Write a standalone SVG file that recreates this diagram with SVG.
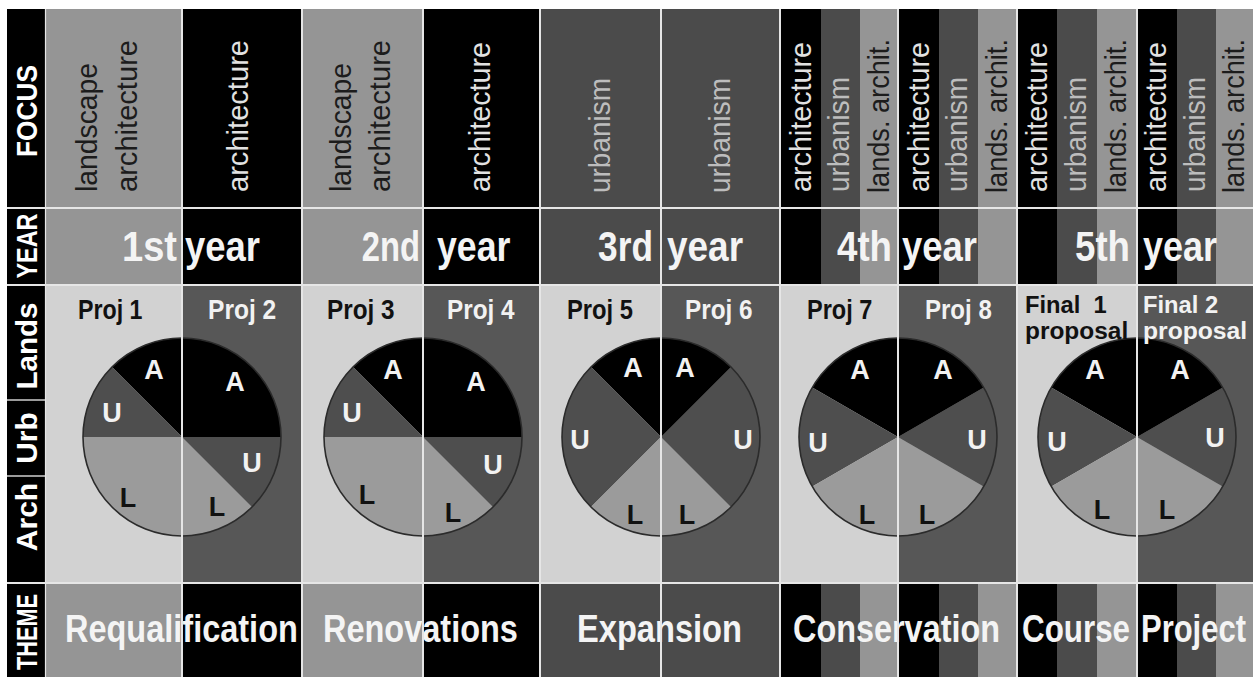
<svg xmlns="http://www.w3.org/2000/svg" width="1253" height="677" viewBox="0 0 1253 677">
<style>
text{font-family:"Liberation Sans",Arial,Helvetica,sans-serif}
.K{fill:#000}.D{fill:#4b4b4b}.M{fill:#959595}.L{fill:#d2d2d2}.DB{fill:#575757}
.hl{font-weight:bold;font-size:30px;fill:#fff;text-anchor:middle}
.fo{font-size:30px}
.fdk{fill:#1c1c1c}.flt{fill:#e2e2e2}.fmd{fill:#bdbdbd}
.yr{font-weight:bold;font-size:42px;fill:#f4f4f4}
.e{text-anchor:end}
.pj{font-weight:bold;font-size:27px}
.fp{font-weight:bold;font-size:23.5px;white-space:pre}
.pb{fill:#111}.pw{fill:#f2f2f2}
.pa{fill:#000}.pu{fill:#4e4e4e}.pl{fill:#9b9b9b}
.pt{font-weight:bold;font-size:27px;text-anchor:middle}
.th{font-weight:bold;font-size:38px;fill:#f4f4f4}
.sep{stroke:#e6e6e6;stroke-width:2}
.ring{fill:none;stroke:#2b2b2b;stroke-width:1.6}
</style>
<rect width="1253" height="677" fill="#fff"/>

<g id="backgrounds">
  <rect x="7" y="9" width="38" height="668" class="K"/>
  <rect x="45" y="9" width="137" height="668" class="M"/>
  <rect x="182" y="9" width="120" height="668" class="K"/>
  <rect x="302" y="9" width="121" height="668" class="M"/>
  <rect x="423" y="9" width="117" height="668" class="K"/>
  <rect x="540" y="9" width="240" height="668" class="D"/>
  <rect x="780" y="9" width="41" height="668" class="K"/>
  <rect x="821" y="9" width="39" height="668" class="D"/>
  <rect x="860" y="9" width="38" height="668" class="M"/>
  <rect x="898" y="9" width="41" height="668" class="K"/>
  <rect x="939" y="9" width="39" height="668" class="D"/>
  <rect x="978" y="9" width="39" height="668" class="M"/>
  <rect x="1017" y="9" width="40" height="668" class="K"/>
  <rect x="1057" y="9" width="40" height="668" class="D"/>
  <rect x="1097" y="9" width="40" height="668" class="M"/>
  <rect x="1137" y="9" width="40" height="668" class="K"/>
  <rect x="1177" y="9" width="39" height="668" class="D"/>
  <rect x="1216" y="9" width="37" height="668" class="M"/>
  <rect x="45" y="285" width="137" height="298" class="L"/>
  <rect x="182" y="285" width="120" height="298" class="DB"/>
  <rect x="302" y="285" width="121" height="298" class="L"/>
  <rect x="423" y="285" width="117" height="298" class="DB"/>
  <rect x="540" y="285" width="121" height="298" class="L"/>
  <rect x="661" y="285" width="119" height="298" class="DB"/>
  <rect x="780" y="285" width="118" height="298" class="L"/>
  <rect x="898" y="285" width="119" height="298" class="DB"/>
  <rect x="1017" y="285" width="120" height="298" class="L"/>
  <rect x="1137" y="285" width="116" height="298" class="DB"/>
</g>

<g id="row-labels">
  <text class="hl" transform="translate(37,111) rotate(-90) scale(0.876,1)">FOCUS</text>
  <text class="hl" transform="translate(37,246) rotate(-90) scale(0.78,1)">YEAR</text>
  <text class="hl" transform="translate(37,346) rotate(-90) scale(0.985,1)">Lands</text>
  <text class="hl" transform="translate(37,438) rotate(-90)">Urb</text>
  <text class="hl" transform="translate(37,517) rotate(-90)">Arch</text>
  <text class="hl" transform="translate(37,632) rotate(-90) scale(0.724,1)">THEME</text>
</g>

<g id="focus">
  <text class="fo fdk" transform="translate(97,192) rotate(-90) scale(0.944,1)">landscape</text>
  <text class="fo fdk" transform="translate(137,192) rotate(-90) scale(0.97,1)">architecture</text>
  <text class="fo flt" transform="translate(248,192) rotate(-90) scale(0.97,1)">architecture</text>
  <text class="fo fdk" transform="translate(351,192) rotate(-90) scale(0.944,1)">landscape</text>
  <text class="fo fdk" transform="translate(390,192) rotate(-90) scale(0.97,1)">architecture</text>
  <text class="fo flt" transform="translate(490,192) rotate(-90) scale(0.957,1)">architecture</text>
  <text class="fo fmd" transform="translate(610,193) rotate(-90) scale(0.932,1)">urbanism</text>
  <text class="fo fmd" transform="translate(730,193) rotate(-90) scale(0.932,1)">urbanism</text>

  <text class="fo flt" transform="translate(811,192) rotate(-90) scale(0.957,1)">architecture</text>
  <text class="fo fmd" transform="translate(849,192) rotate(-90) scale(0.932,1)">urbanism</text>
  <text class="fo fdk" transform="translate(889,193) rotate(-90) scale(0.905,1)">lands. archit.</text>

  <text class="fo flt" transform="translate(929,192) rotate(-90) scale(0.957,1)">architecture</text>
  <text class="fo fmd" transform="translate(967,192) rotate(-90) scale(0.932,1)">urbanism</text>
  <text class="fo fdk" transform="translate(1007,193) rotate(-90) scale(0.905,1)">lands. archit.</text>

  <text class="fo flt" transform="translate(1047,192) rotate(-90) scale(0.957,1)">architecture</text>
  <text class="fo fmd" transform="translate(1086,192) rotate(-90) scale(0.932,1)">urbanism</text>
  <text class="fo fdk" transform="translate(1126,193) rotate(-90) scale(0.905,1)">lands. archit.</text>

  <text class="fo flt" transform="translate(1166,192) rotate(-90) scale(0.957,1)">architecture</text>
  <text class="fo fmd" transform="translate(1205,192) rotate(-90) scale(0.932,1)">urbanism</text>
  <text class="fo fdk" transform="translate(1244,193) rotate(-90) scale(0.905,1)">lands. archit.</text>
</g>

<g id="years">
  <text class="yr e" transform="translate(177,261) scale(0.906,1)">1st</text>
  <text class="yr" transform="translate(185,261) scale(0.868,1)">year</text>
  <text class="yr e" transform="translate(420,261) scale(0.78,1)">2nd</text>
  <text class="yr" transform="translate(437,261) scale(0.85,1)">year</text>
  <text class="yr e" transform="translate(653,261) scale(0.84,1)">3rd</text>
  <text class="yr" transform="translate(667,261) scale(0.88,1)">year</text>
  <text class="yr e" transform="translate(892,261) scale(0.873,1)">4th</text>
  <text class="yr" transform="translate(902,261) scale(0.868,1)">year</text>
  <text class="yr e" transform="translate(1130,261) scale(0.873,1)">5th</text>
  <text class="yr" transform="translate(1143,261) scale(0.857,1)">year</text>
</g>

<g id="pie-1-2" transform="translate(182,437)">
  <path class="pa" d="M0 0V-99A99 99 0 0 0 -70 -70Z"/>
  <path class="pu" d="M0 0L-70 -70A99 99 0 0 0 -99 0Z"/>
  <path class="pl" d="M0 0H-99A99 99 0 0 0 0 99Z"/>
  <path class="pa" d="M0 0H99A99 99 0 0 0 0 -99Z"/>
  <path class="pu" d="M0 0L70 70A99 99 0 0 0 99 0Z"/>
  <path class="pl" d="M0 0V99A99 99 0 0 0 70 70Z"/>
  <circle class="ring" r="99"/>
</g>
<g id="pie-3-4" transform="translate(423,437)">
  <path class="pa" d="M0 0V-99A99 99 0 0 0 -70 -70Z"/>
  <path class="pu" d="M0 0L-70 -70A99 99 0 0 0 -99 0Z"/>
  <path class="pl" d="M0 0H-99A99 99 0 0 0 0 99Z"/>
  <path class="pa" d="M0 0H99A99 99 0 0 0 0 -99Z"/>
  <path class="pu" d="M0 0L70 70A99 99 0 0 0 99 0Z"/>
  <path class="pl" d="M0 0V99A99 99 0 0 0 70 70Z"/>
  <circle class="ring" r="99"/>
</g>
<g id="pie-5-6" transform="translate(661,437)">
  <path class="pa" d="M0 0V-99A99 99 0 0 0 -70 -70Z"/>
  <path class="pu" d="M0 0L-70 -70A99 99 0 0 0 -70 70Z"/>
  <path class="pl" d="M0 0L-70 70A99 99 0 0 0 0 99Z"/>
  <path class="pa" d="M0 0L70 -70A99 99 0 0 0 0 -99Z"/>
  <path class="pu" d="M0 0L70 70A99 99 0 0 0 70 -70Z"/>
  <path class="pl" d="M0 0V99A99 99 0 0 0 70 70Z"/>
  <circle class="ring" r="99"/>
</g>
<g id="pie-7-8" transform="translate(898,437)">
  <path class="pa" d="M0 0V-99A99 99 0 0 0 -85.7 -49.5Z"/>
  <path class="pu" d="M0 0L-85.7 -49.5A99 99 0 0 0 -85.7 49.5Z"/>
  <path class="pl" d="M0 0L-85.7 49.5A99 99 0 0 0 0 99Z"/>
  <path class="pa" d="M0 0L85.7 -49.5A99 99 0 0 0 0 -99Z"/>
  <path class="pu" d="M0 0L85.7 49.5A99 99 0 0 0 85.7 -49.5Z"/>
  <path class="pl" d="M0 0V99A99 99 0 0 0 85.7 49.5Z"/>
  <circle class="ring" r="99"/>
</g>
<g id="pie-9-10" transform="translate(1137,437)">
  <path class="pa" d="M0 0V-99A99 99 0 0 0 -85.7 -49.5Z"/>
  <path class="pu" d="M0 0L-85.7 -49.5A99 99 0 0 0 -85.7 49.5Z"/>
  <path class="pl" d="M0 0L-85.7 49.5A99 99 0 0 0 0 99Z"/>
  <path class="pa" d="M0 0L85.7 -49.5A99 99 0 0 0 0 -99Z"/>
  <path class="pu" d="M0 0L85.7 49.5A99 99 0 0 0 85.7 -49.5Z"/>
  <path class="pl" d="M0 0V99A99 99 0 0 0 85.7 49.5Z"/>
  <circle class="ring" r="99"/>
</g>

<g id="proj-labels">
  <text class="pj pb" transform="translate(78,319) scale(0.86,1)">Proj 1</text>
  <text class="pj pw" transform="translate(208,319) scale(0.91,1)">Proj 2</text>
  <text class="pj pb" transform="translate(327,319) scale(0.9,1)">Proj 3</text>
  <text class="pj pw" transform="translate(447,319) scale(0.9,1)">Proj 4</text>
  <text class="pj pb" transform="translate(567,319) scale(0.88,1)">Proj 5</text>
  <text class="pj pw" transform="translate(685,319) scale(0.9,1)">Proj 6</text>
  <text class="pj pb" transform="translate(807,319) scale(0.87,1)">Proj 7</text>
  <text class="pj pw" transform="translate(925,319) scale(0.89,1)">Proj 8</text>
  <text class="fp pb" transform="translate(1025,312.5) scale(1.01,1)">Final  1</text>
  <text class="fp pb" transform="translate(1025,339) scale(1.04,1)">proposal</text>
  <text class="fp pw" transform="translate(1143,312.5) scale(1.01,1)">Final 2</text>
  <text class="fp pw" transform="translate(1143,339) scale(1.05,1)">proposal</text>
</g>

<g id="pie-letters">
  <text class="pt pw" x="154" y="379">A</text><text class="pt pw" x="112" y="422">U</text><text class="pt pb" x="128" y="507">L</text>
  <text class="pt pw" x="235" y="391">A</text><text class="pt pw" x="252" y="472">U</text><text class="pt pb" x="217" y="516">L</text>
  <text class="pt pw" x="393" y="379">A</text><text class="pt pw" x="352" y="422">U</text><text class="pt pb" x="367" y="504">L</text>
  <text class="pt pw" x="476" y="391">A</text><text class="pt pw" x="493" y="474">U</text><text class="pt pb" x="453" y="522">L</text>
  <text class="pt pw" x="633" y="377">A</text><text class="pt pw" x="580" y="449">U</text><text class="pt pb" x="635" y="524">L</text>
  <text class="pt pw" x="685" y="377">A</text><text class="pt pw" x="743" y="449">U</text><text class="pt pb" x="687" y="524">L</text>
  <text class="pt pw" x="860" y="379">A</text><text class="pt pw" x="818" y="452">U</text><text class="pt pb" x="867" y="524">L</text>
  <text class="pt pw" x="943" y="379">A</text><text class="pt pw" x="977" y="449">U</text><text class="pt pb" x="927" y="524">L</text>
  <text class="pt pw" x="1095" y="379">A</text><text class="pt pw" x="1057" y="451">U</text><text class="pt pb" x="1102" y="519">L</text>
  <text class="pt pw" x="1180" y="379">A</text><text class="pt pw" x="1215" y="447">U</text><text class="pt pb" x="1167" y="519">L</text>
</g>

<g id="themes">
  <text class="th" transform="translate(65,642) scale(0.855,1)">Requalification</text>
  <text class="th" transform="translate(323,642) scale(0.855,1)">Renovations</text>
  <text class="th" transform="translate(577,642) scale(0.859,1)">Expansion</text>
  <text class="th" transform="translate(793,642) scale(0.853,1)">Conservation</text>
  <text class="th" transform="translate(1022,642) scale(0.825,1)">Course</text>
  <text class="th" transform="translate(1141,642) scale(0.815,1)">Project</text>
</g>

<g id="separators" class="sep">
  <line x1="7" y1="208" x2="1253" y2="208"/>
  <line x1="7" y1="285" x2="1253" y2="285"/>
  <line x1="7" y1="583" x2="1253" y2="583"/>
  <line x1="7" y1="400" x2="45" y2="400" style="stroke:#cfcfcf;stroke-width:1.5"/>
  <line x1="7" y1="476" x2="45" y2="476" style="stroke:#cfcfcf;stroke-width:1.5"/>
  <line x1="45.5" y1="9" x2="45.5" y2="677" style="stroke-width:1.2"/>
  <line x1="182" y1="9" x2="182" y2="677"/>
  <line x1="302" y1="9" x2="302" y2="677"/>
  <line x1="423" y1="9" x2="423" y2="677"/>
  <line x1="540" y1="9" x2="540" y2="677"/>
  <line x1="661" y1="9" x2="661" y2="677"/>
  <line x1="780" y1="9" x2="780" y2="677"/>
  <line x1="898" y1="9" x2="898" y2="677"/>
  <line x1="1017" y1="9" x2="1017" y2="677"/>
  <line x1="1137" y1="9" x2="1137" y2="677"/>
</g>
</svg>
